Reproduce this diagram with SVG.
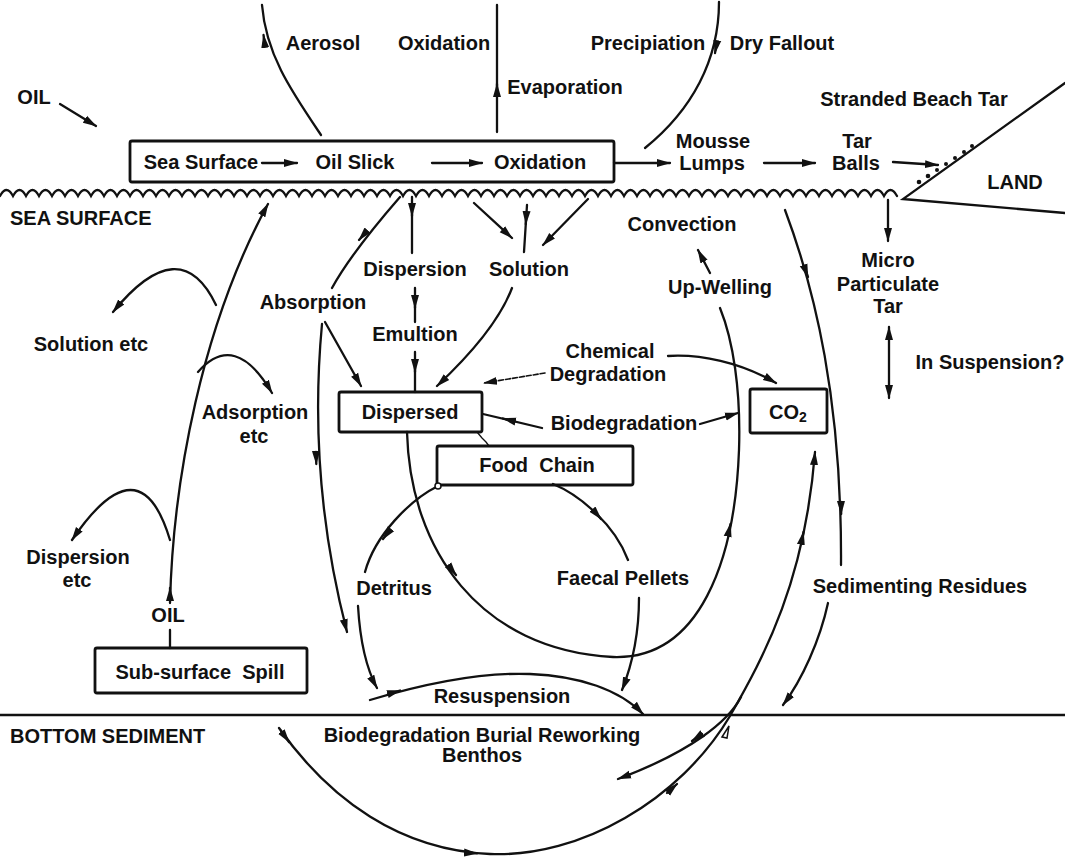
<svg xmlns="http://www.w3.org/2000/svg" width="1065" height="859" viewBox="0 0 1065 859">
<style>
text{font-family:"Liberation Sans",Arial,sans-serif;font-weight:bold;font-size:20px;fill:#111;text-anchor:middle}
.st{text-anchor:start}
.box{fill:none;stroke:#111;stroke-width:2.8}
.ln{fill:none;stroke:#111;stroke-width:2.3;stroke-linecap:round}
.ar{marker-end:url(#ah)}
.faint{stroke-dasharray:5 2;stroke-width:1.6}
</style>
<defs>
<marker id="ah" viewBox="0 0 14 10" refX="13" refY="5" markerWidth="14" markerHeight="10" markerUnits="userSpaceOnUse" orient="auto"><path d="M0,1 L14,5 L0,9 z" fill="#111"/></marker>
<marker id="ah2" viewBox="0 0 14 10" refX="13" refY="5" markerWidth="14" markerHeight="10" markerUnits="userSpaceOnUse" orient="auto-start-reverse"><path d="M0,1 L14,5 L0,9 z" fill="#111"/></marker>
</defs>
<rect width="1065" height="859" fill="#fff"/>

<g id="surface">
<path class="ln" d="M0,196 q6.5,-12 13,0 q6.5,-12 13,0 q6.5,-12 13,0 q6.5,-12 13,0 q6.5,-12 13,0 q6.5,-12 13,0 q6.5,-12 13,0 q6.5,-12 13,0 q6.5,-12 13,0 q6.5,-12 13,0 q6.5,-12 13,0 q6.5,-12 13,0 q6.5,-12 13,0 q6.5,-12 13,0 q6.5,-12 13,0 q6.5,-12 13,0 q6.5,-12 13,0 q6.5,-12 13,0 q6.5,-12 13,0 q6.5,-12 13,0 q6.5,-12 13,0 q6.5,-12 13,0 q6.5,-12 13,0 q6.5,-12 13,0 q6.5,-12 13,0 q6.5,-12 13,0 q6.5,-12 13,0 q6.5,-12 13,0 q6.5,-12 13,0 q6.5,-12 13,0 q6.5,-12 13,0 q6.5,-12 13,0 q6.5,-12 13,0 q6.5,-12 13,0 q6.5,-12 13,0 q6.5,-12 13,0 q6.5,-12 13,0 q6.5,-12 13,0 q6.5,-12 13,0 q6.5,-12 13,0 q6.5,-12 13,0 q6.5,-12 13,0 q6.5,-12 13,0 q6.5,-12 13,0 q6.5,-12 13,0 q6.5,-12 13,0 q6.5,-12 13,0 q6.5,-12 13,0 q6.5,-12 13,0 q6.5,-12 13,0 q6.5,-12 13,0 q6.5,-12 13,0 q6.5,-12 13,0 q6.5,-12 13,0 q6.5,-12 13,0 q6.5,-12 13,0 q6.5,-12 13,0 q6.5,-12 13,0 q6.5,-12 13,0 q6.5,-12 13,0 q6.5,-12 13,0 q6.5,-12 13,0 q6.5,-12 13,0 q6.5,-12 13,0 q6.5,-12 13,0 q6.5,-12 13,0 q6.5,-12 13,0 q6.5,-12 13,0 q6.5,-12 13,0"/>
<path class="ln" d="M0,715 L1065,715"/>
<text class="st" x="10" y="225">SEA SURFACE</text>
<text class="st" x="10" y="743">BOTTOM SEDIMENT</text>
</g>

<g id="land">
<path class="ln" d="M1065,83 L903,199 L1065,213"/>
<g fill="#111"><circle cx="919" cy="182" r="2.3"/><circle cx="928" cy="176" r="2.3"/><circle cx="937" cy="170" r="2"/><circle cx="946" cy="164" r="2"/><circle cx="955" cy="158" r="2"/><circle cx="964" cy="152" r="2"/><circle cx="972" cy="146" r="2"/></g>
<text x="1015" y="189">LAND</text>
</g>

<g id="surface-box">
<rect class="box" x="130" y="141" width="484" height="41" rx="2"/>
<text x="201" y="169">Sea Surface</text>
<text x="355" y="169">Oil Slick</text>
<text x="540" y="169">Oxidation</text>
</g>
<g id="dispersed-box"><rect class="box" x="339" y="392" width="143" height="40" rx="2"/><text x="410" y="419">Dispersed</text></g>
<g id="foodchain-box"><rect class="box" x="437" y="446" width="196" height="39" rx="2"/><text x="537" y="472" xml:space="preserve">Food  Chain</text></g>
<g id="co2-box"><rect class="box" x="750" y="389" width="77" height="44" rx="2"/><text x="788" y="419">CO<tspan font-size="14" dy="3">2</tspan></text></g>
<g id="subsurface-box"><rect class="box" x="95" y="648" width="212" height="45" rx="2"/><text x="200" y="679" xml:space="preserve">Sub-surface  Spill</text></g>

<g id="labels">
<g id="l-aerosol"><text x="323" y="50">Aerosol</text></g>
<g id="l-oxidation"><text x="444" y="50">Oxidation</text></g>
<g id="l-precip"><text x="648" y="50">Precipiation</text></g>
<g id="l-dry"><text x="782" y="50">Dry Fallout</text></g>
<g id="l-evap"><text x="565" y="94">Evaporation</text></g>
<g id="l-oil-top"><text x="34" y="104">OIL</text></g>
<g id="l-stranded"><text x="914" y="106">Stranded Beach Tar</text></g>
<g id="l-mousse"><text x="713" y="148">Mousse</text><text x="712" y="170">Lumps</text></g>
<g id="l-tarballs"><text x="857" y="148">Tar</text><text x="856" y="170">Balls</text></g>
<g id="l-convection"><text x="682" y="231">Convection</text></g>
<g id="l-upwelling"><text x="720" y="294">Up-Welling</text></g>
<g id="l-dispersion"><text x="415" y="276">Dispersion</text></g>
<g id="l-solution"><text x="529" y="276">Solution</text></g>
<g id="l-micro"><text x="888" y="267">Micro</text><text x="888" y="291">Particulate</text><text x="888" y="313">Tar</text></g>
<g id="l-absorption"><text x="313" y="309">Absorption</text></g>
<g id="l-solutionetc"><text x="91" y="351">Solution etc</text></g>
<g id="l-emultion"><text x="415" y="341">Emultion</text></g>
<g id="l-chemical"><text x="610" y="358">Chemical</text><text x="608" y="381">Degradation</text></g>
<g id="l-suspension"><text x="990" y="369">In Suspension?</text></g>
<g id="l-biodeg"><text x="624" y="430">Biodegradation</text></g>
<g id="l-adsorption"><text x="255" y="419">Adsorption</text><text x="254" y="443">etc</text></g>
<g id="l-dispersionetc"><text x="78" y="564">Dispersion</text><text x="77" y="587">etc</text></g>
<g id="l-detritus"><text x="394" y="595">Detritus</text></g>
<g id="l-faecal"><text x="623" y="585">Faecal Pellets</text></g>
<g id="l-sedimenting"><text x="920" y="593">Sedimenting Residues</text></g>
<g id="l-oil-sub"><text x="168" y="622">OIL</text></g>
<g id="l-resuspension"><text x="502" y="703">Resuspension</text></g>
<g id="l-benthos"><text x="482" y="742">Biodegradation Burial Reworking</text><text x="482" y="762">Benthos</text></g>
</g>

<g id="connectors">
<path class="ln ar" d="M60,104 L96,126"/>
<path class="ln" d="M321,135 C292,92 266,55 262,5"/>
<path class="ln ar" d="M265,46 L263.5,35"/>
<path class="ln" d="M497,132 L497,5"/>
<path class="ln ar" d="M497,96 L497,84"/>
<path class="ln" d="M719,2 C719,60 692,110 645,148"/>
<path class="ln ar" d="M717,42 L715,53"/>
<path class="ln ar" d="M262,163 L297,163"/>
<path class="ln ar" d="M432,163 L482,163"/>
<path class="ln ar" d="M614,163 L670,163"/>
<path class="ln ar" d="M764,163 L815,163"/>
<path class="ln ar" d="M893,162 L938,165"/>

<path class="ln" d="M170,648 L170,630"/>
<path class="ln ar" d="M170,603 C173,480 202,325 268,204"/>
<path class="ln ar" d="M170,600 L170,588"/>
<path class="ln ar" d="M216,305 Q180,230 113,312"/>
<path class="ln ar" d="M198,372 Q235,330 272,393"/>
<path class="ln ar" d="M170,540 Q140,440 72,540"/>

<path class="ln" d="M400,197 C380,220 350,255 332,288"/>
<path class="ln ar" d="M366,232 L359,240"/>
<path class="ln" d="M412,197 L412,253"/>
<path class="ln ar" d="M412,204 L412,216"/>
<path class="ln" d="M415,288 L415,322"/>
<path class="ln ar" d="M415,296 L415,308"/>
<path class="ln" d="M415,352 L415,392"/>
<path class="ln ar" d="M415,360 L415,372"/>
<path class="ln ar" d="M474,203 L512,238"/>
<path class="ln" d="M527,205 L524,252"/>
<path class="ln ar" d="M526.5,212 L525.8,224"/>
<path class="ln ar" d="M588,199 L543,245"/>
<path class="ln ar" d="M512,288 C500,320 470,355 437,386"/>
<path class="ln ar" d="M325,322 L361,386"/>
<path class="ln ar" d="M322,324 C313,420 318,520 347,632"/>
<path class="ln ar" d="M316,452 L316.3,464"/>

<path class="ln ar" d="M668,356 C700,354 740,362 776,383"/>
<path class="ln ar faint" d="M545,373 L484,383"/>
<path class="ln" d="M483,414 L542,428"/>
<path class="ln ar" d="M515,421.5 L503,418.5"/>
<path class="ln ar" d="M700,424 L738,413"/>
<path class="ln" style="stroke-width:1.3" d="M477,432 L482,438 L486,442 L489,446"/>

<path class="ln" d="M407,432 C410,550 480,650 613,657 C700,660 735,560 739,450 C741,390 733,340 720,308"/>
<path class="ln ar" d="M449,566 L456,575"/>
<path class="ln ar" d="M728,535 L730.5,524"/>
<path class="ln ar" d="M710,273 L698,250"/>

<path class="ln" d="M785,210 C815,290 842,400 841,565"/>
<path class="ln ar" d="M804,266 L808,277"/>
<path class="ln ar" d="M841,502 L841.2,514"/>
<path class="ln ar" d="M828,603 C820,640 802,680 783,705"/>
<path class="ln ar" d="M888,200 L888,241"/>
<path class="ln" style="marker-start:url(#ah2);marker-end:url(#ah2)" d="M889,327 L889,398"/>

<path class="ln ar" d="M279,728 C330,800 400,850 490,854 C580,858 680,800 730,716 C765,655 805,580 815,452"/>
<path class="ln ar" d="M281,731 L289,742"/>
<path class="ln ar" d="M466,852.6 L477,853.4"/>
<path class="ln ar" d="M667,793 L677,784"/>
<path class="ln ar" d="M801,544 L803.5,532"/>
<path d="M722,737 L729,726 L727,738 z" fill="#fff" stroke="#111" stroke-width="1.5"/>
<path class="ln ar" d="M741,697 C728,722 690,752 618,779"/>
<path class="ln ar" d="M702,734 L692,741"/>

<path class="ln" d="M438,486 C410,500 375,535 365,572"/>
<path class="ln ar" d="M390,530 L383,539"/>
<circle cx="438" cy="486" r="3" fill="#fff" stroke="#111" stroke-width="1.5"/>
<path class="ln ar" d="M358,606 C360,640 366,668 377,688"/>
<path class="ln" d="M553,484 C580,495 615,525 628,560"/>
<path class="ln ar" d="M594,511 L601,519"/>
<path class="ln ar" d="M639,598 C639,630 634,660 622,690"/>
<path class="ln ar" d="M370,700 C420,685 480,672 530,674 C580,676 620,690 643,714"/>
<path class="ln ar" d="M388,694 L400,690.5"/>
</g>
</svg>
